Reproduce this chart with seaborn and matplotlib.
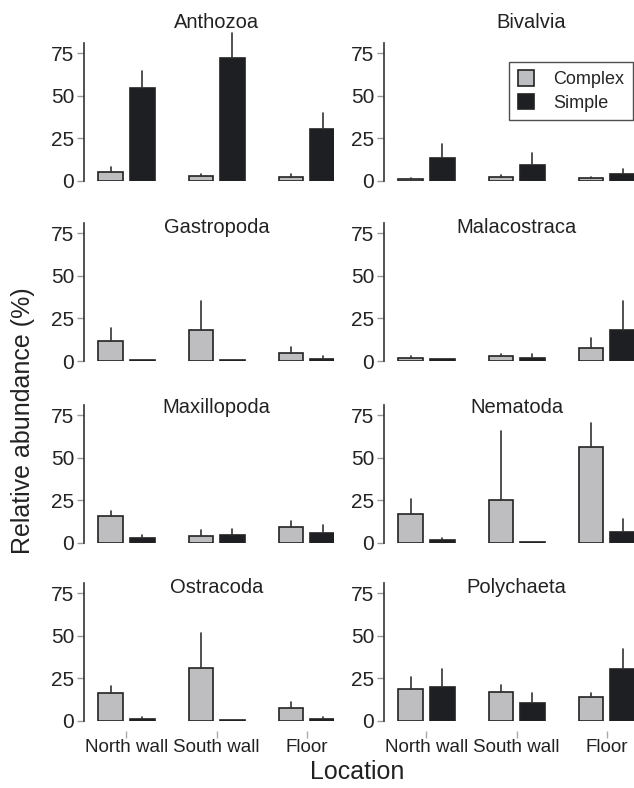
import numpy as np
import pandas as pd
import matplotlib
matplotlib.use("Agg")
import matplotlib.pyplot as plt
from matplotlib.patches import Patch
import seaborn as sns

# data (mean and upper error length, in %)
locations = ["North wall", "South wall", "Floor"]
structures = ["Complex", "Simple"]
taxa = ["Anthozoa", "Bivalvia", "Gastropoda", "Malacostraca",
        "Maxillopoda", "Nematoda", "Ostracoda", "Polychaeta"]

# order per taxon: NW, SW, Floor
complex_mean = {
    "Anthozoa": [5.3, 3.1, 2.4],
    "Bivalvia": [1.4, 2.4, 1.6],
    "Gastropoda": [11.6, 18.3, 4.5],
    "Malacostraca": [2.0, 3.1, 7.5],
    "Maxillopoda": [16.0, 4.3, 9.5],
    "Nematoda": [17.1, 25.1, 56.4],
    "Ostracoda": [16.3, 31.4, 7.8],
    "Polychaeta": [18.6, 16.9, 14.3],
}
complex_err = {
    "Anthozoa": [2.9, 1.2, 1.5],
    "Bivalvia": [0.6, 1.3, 0.6],
    "Gastropoda": [8.0, 16.9, 3.5],
    "Malacostraca": [0.7, 0.8, 5.9],
    "Maxillopoda": [2.9, 3.2, 3.5],
    "Nematoda": [8.8, 40.7, 13.9],
    "Ostracoda": [4.5, 20.2, 3.6],
    "Polychaeta": [7.1, 4.3, 2.0],
}
simple_mean = {
    "Anthozoa": [54.3, 72.4, 30.8],
    "Bivalvia": [13.7, 9.6, 3.9],
    "Gastropoda": [0.8, 0.4, 1.0],
    "Malacostraca": [1.0, 1.8, 18.1],
    "Maxillopoda": [3.2, 4.5, 5.7],
    "Nematoda": [2.0, 0.4, 6.5],
    "Ostracoda": [1.4, 0.4, 1.2],
    "Polychaeta": [20.0, 10.4, 30.8],
}
simple_err = {
    "Anthozoa": [10.4, 14.3, 9.4],
    "Bivalvia": [7.9, 7.1, 3.0],
    "Gastropoda": [0.0, 0.0, 1.7],
    "Malacostraca": [0.4, 2.1, 17.1],
    "Maxillopoda": [1.5, 3.6, 5.0],
    "Nematoda": [1.1, 0.0, 7.6],
    "Ostracoda": [0.8, 0.0, 1.0],
    "Polychaeta": [10.4, 6.3, 11.6],
}

# long table for seaborn
rows = []
for t in taxa:
    for i, loc in enumerate(locations):
        rows.append({"taxon": t, "Location": loc, "structure": "Complex",
                     "value": complex_mean[t][i], "err": complex_err[t][i]})
        rows.append({"taxon": t, "Location": loc, "structure": "Simple",
                     "value": simple_mean[t][i], "err": simple_err[t][i]})
df = pd.DataFrame(rows)

sns.set_theme(style="white")
plt.rcParams["font.family"] = ["Liberation Sans", "DejaVu Sans"]

light = "#bdbec2"
dark = "#1e1f22"
edge = "#222222"

fig = plt.figure(figsize=(6.34, 7.88), dpi=100)

lefts = [84 / 634, 384 / 634]
bottoms = [1 - 181 / 788, 1 - 361 / 788, 1 - 543 / 788, 1 - 721 / 788]
ax_w = 250 / 634
ax_h = 138 / 788
title_y = [1.145, 0.965, 0.985, 0.965]

for k, t in enumerate(taxa):
    r, c = divmod(k, 2)
    ax = fig.add_axes([lefts[c], bottoms[r], ax_w, ax_h])
    sub = df[df["taxon"] == t]
    sns.barplot(data=sub, x="Location", y="value", hue="structure",
                order=locations, hue_order=structures,
                palette=[light, dark], width=0.7, gap=0.22,
                edgecolor=edge, linewidth=1.2, errorbar=None,
                legend=False, ax=ax)

    # one-sided error lines on top of each bar
    for h, s in enumerate(structures):
        errs = sub[sub["structure"] == s].set_index("Location").loc[locations, "err"]
        for bar, e in zip(ax.containers[h], errs):
            if e <= 0:
                continue
            xc = bar.get_x() + bar.get_width() / 2
            top = bar.get_height()
            ax.plot([xc, xc], [top, top + e], color="#333333", lw=1.2,
                    clip_on=False, zorder=1)

    ax.set_xlim(-0.47, 2.3)
    ax.set_ylim(0, 81)
    ax.set_yticks([0, 25, 50, 75])
    ax.set_xlabel("")
    ax.set_ylabel("")
    for sp in ["top", "right", "bottom"]:
        ax.spines[sp].set_visible(False)
    ax.spines["left"].set_color("#333333")
    ax.spines["left"].set_linewidth(1.2)
    ax.spines["bottom"].set_position(("outward", 7))
    ax.tick_params(axis="y", left=True, length=5, width=1, color="#999999",
                   labelsize=15, labelcolor="#222222", pad=2)
    if r == 3:
        ax.tick_params(axis="x", bottom=True, length=5, width=1, color="#aaaaaa",
                       labelsize=13.5, labelcolor="#222222", pad=1)
    else:
        ax.tick_params(axis="x", bottom=False, labelbottom=False)

    tx = 0.59 if t == "Bivalvia" else 0.53
    ax.text(tx, title_y[r], t, transform=ax.transAxes, ha="center",
            va="center", fontsize=14.5, color="#222222")

    if t == "Bivalvia":
        handles = [Patch(facecolor=light, edgecolor=edge, lw=1.2),
                   Patch(facecolor=dark, edgecolor=edge, lw=1.2)]
        leg = ax.legend(handles, structures, loc="upper right",
                        bbox_to_anchor=(0.995, 0.862), fontsize=13,
                        frameon=True, fancybox=False, handlelength=0.9,
                        handleheight=0.95, handletextpad=1.1,
                        borderpad=0.45, labelspacing=0.3, borderaxespad=0)
        leg.get_frame().set_edgecolor("#222222")
        leg.get_frame().set_linewidth(1.0)

fig.text(0.037, 0.466, "Relative abundance (%)", rotation=90,
         ha="center", va="center", fontsize=18, color="#222222")
fig.text(357 / 634, 1 - 772 / 788, "Location", ha="center", va="center",
         fontsize=18, color="#222222")

fig.savefig("out.png", dpi=100)
